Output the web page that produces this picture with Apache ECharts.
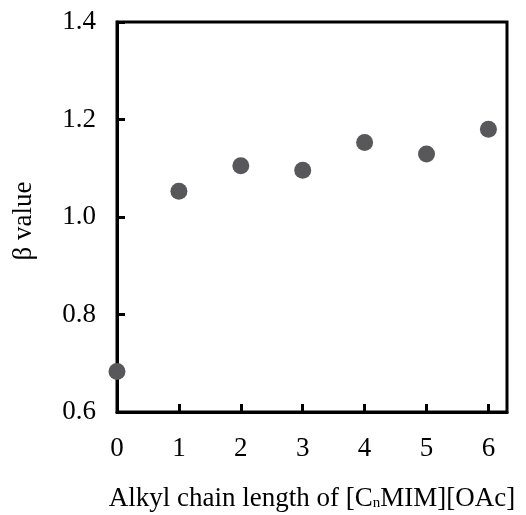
<!DOCTYPE html>
<html>
<head>
<meta charset="utf-8">
<script src="https://cdn.jsdelivr.net/npm/echarts@6/dist/echarts.min.js"></script>
<style>
  html, body { margin: 0; padding: 0; background: #fff; }
  #main { width: 526px; height: 515px; }
</style>
</head>
<body>
<div id="main"></div>
<script>
  // alkyl chain length n of [CnMIM][OAc]
  var chainLength = [0, 1, 2, 3, 4, 5, 6];
  // beta values
  var betaValue = [0.683, 1.053, 1.105, 1.096, 1.153, 1.129, 1.180];
  var xTicks = [0, 1, 2, 3, 4, 5, 6];
  var yTicks = [0.6, 0.8, 1.0, 1.2, 1.4];

  var chart = echarts.init(document.getElementById('main'));
  var font = '"Liberation Serif", "Times New Roman", serif';

  var option = {
    animation: false,
    backgroundColor: '#fff',
    grid: {
      left: 117, top: 22, right: 19, bottom: 103,
      outerBoundsMode: 'none',
      containLabel: false,
      show: true, borderColor: '#000', borderWidth: 3
    },
    xAxis: {
      type: 'value',
      min: 0, max: 6.3,
      name: '{a|Alkyl chain length of [C}{s|n}{a|MIM][OAc]}',
      nameLocation: 'middle',
      nameGap: 73,
      nameTextStyle: {
        rich: {
          a: { fontFamily: font, fontSize: 27, color: '#000' },
          s: { fontFamily: font, fontSize: 15, color: '#000', padding: [9, 0, 0, 0] }
        }
      },
      axisLine: { show: true, onZero: false, lineStyle: { color: '#000', width: 3 } },
      axisTick: { show: true, inside: true, length: 8, customValues: xTicks, lineStyle: { color: '#000', width: 3 } },
      axisLabel: {
        customValues: xTicks,
        margin: 23,
        fontFamily: font, fontSize: 27, color: '#000'
      },
      splitLine: { show: false }
    },
    yAxis: {
      type: 'value',
      min: 0.6, max: 1.4, interval: 0.2,
      name: 'β value',
      nameLocation: 'middle',
      nameGap: 80,
      nameTextStyle: { fontFamily: font, fontSize: 27, color: '#000', padding: [0, 8, 0, 0] },
      axisLine: { show: true, lineStyle: { color: '#000', width: 3 } },
      axisTick: { show: true, inside: true, length: 8, lineStyle: { color: '#000', width: 3 } },
      axisLabel: {
        margin: 21,
        fontFamily: font, fontSize: 27, color: '#000',
        formatter: function (v) { return v.toFixed(1); }
      },
      splitLine: { show: false }
    },
    series: [
      {
        type: 'scatter',
        symbol: 'circle',
        symbolSize: 17,
        itemStyle: { color: '#58585a', opacity: 1 },
        data: chainLength.map(function (n, i) { return [n, betaValue[i]]; })
      }
    ]
  };

  chart.setOption(option);
</script>
</body>
</html>
